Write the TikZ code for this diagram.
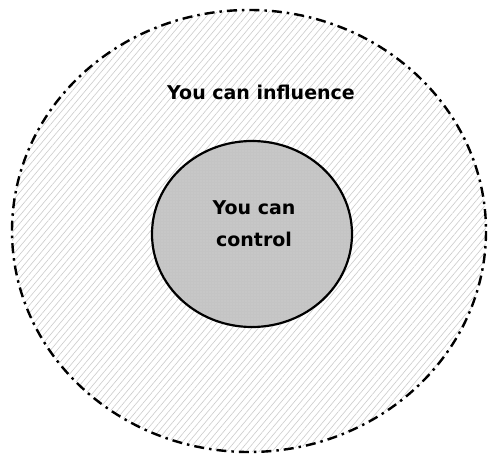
\documentclass[tikz,border=0pt]{standalone}
\usepackage{fontspec}
\setmainfont{DejaVu Sans}
\usetikzlibrary{patterns.meta}
\begin{document}
\begin{tikzpicture}[x=1pt,y=-1pt,
  outerzone/.style={line width=2.4pt, dash pattern=on 10pt off 5pt on 2.5pt off 5pt,
    pattern={Lines[angle=50,distance=5pt,line width=0.6pt]}, pattern color=black!20},
  innerzone/.style={line width=2.2pt, fill={rgb,255:red,196;green,196;blue,196}},
  label/.style={font=\bfseries\fontsize{19}{32}\selectfont, text=black, align=center}]
  \useasboundingbox (0,0) rectangle (489,457);
  \fill[white] (0,0) rectangle (489,457);
  % sphere of influence
  \draw[outerzone] (249,231) ellipse [x radius=237, y radius=221];
  % sphere of control
  \draw[innerzone] (252,234) ellipse [x radius=100, y radius=93];
  \fill[pattern={Dots[distance=3pt,radius=0.45pt]}, pattern color=white!85!gray]
    (252,234) ellipse [x radius=98.8, y radius=91.8];
  \node[label] (influence) at (261,92) {You can influence};
  \node[label] (control) at (254,224) {You can\\control};
\end{tikzpicture}
\end{document}
